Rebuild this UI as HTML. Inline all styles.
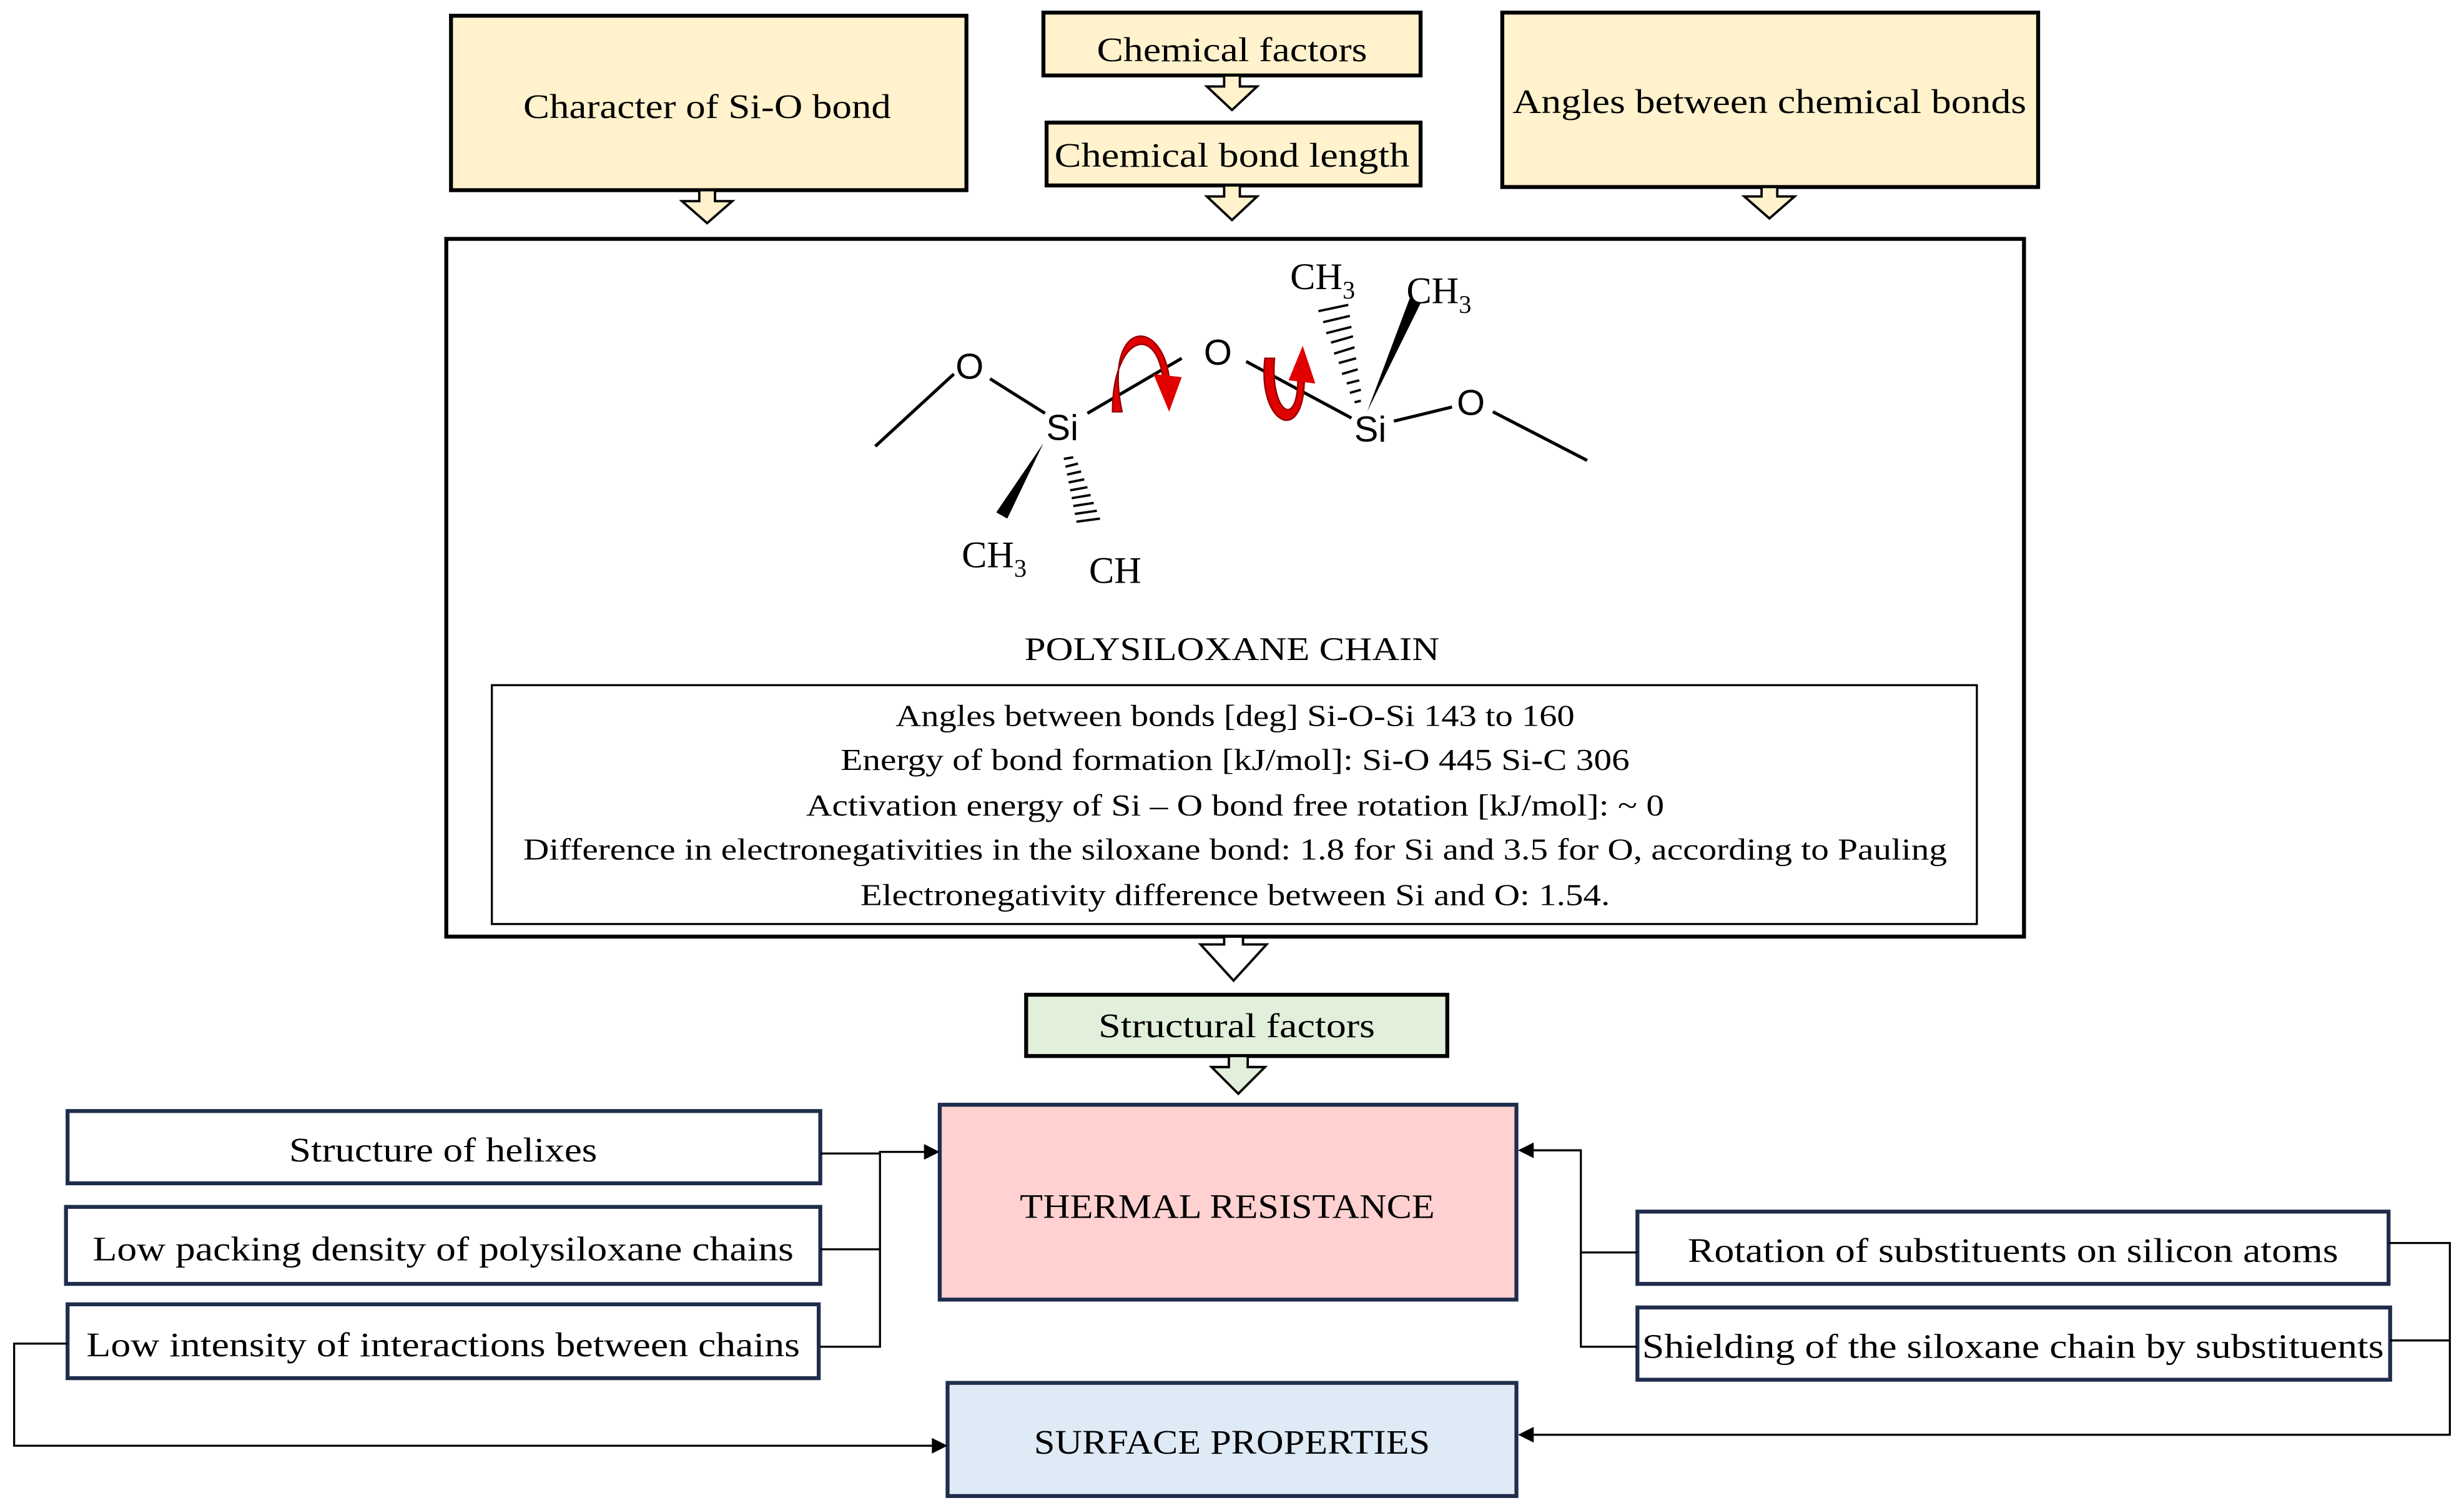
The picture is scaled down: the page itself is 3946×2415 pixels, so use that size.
<!DOCTYPE html>
<html><head><meta charset="utf-8"><style>html,body{margin:0;padding:0;background:#fff}svg{display:block}</style></head>
<body>
<svg width="3946" height="2415" viewBox="0 0 1568 959.6" xmlns="http://www.w3.org/2000/svg" font-family="'Liberation Serif', serif">
<rect x="0" y="0" width="1568" height="960" fill="#fff"/>
<g stroke="#000" stroke-width="2.5" fill="#fff2cc">
<rect x="287" y="10" width="328" height="111"/>
<rect x="664" y="8" width="240" height="40"/>
<rect x="666" y="78" width="238" height="40"/>
<rect x="956" y="8" width="341" height="111"/>
</g>
<g stroke="#000" stroke-width="1.5" fill="#fff2cc">
<path d="M445 121 V128 H434 L450 142 L466 128 H455 V121 Z"/>
<path d="M779 48 V55 H768 L784 70 L800 55 H789 V48 Z"/>
<path d="M779 118 V125 H768 L784 140 L800 125 H789 V118 Z"/>
<path d="M1121 119 V125 H1110 L1126 139 L1142 125 H1131 V119 Z"/>
</g>
<g font-size="22" text-anchor="middle" fill="#000">
<text x="450" y="75" textLength="234" lengthAdjust="spacingAndGlyphs">Character of Si-O bond</text>
<text x="784" y="39" textLength="172" lengthAdjust="spacingAndGlyphs">Chemical factors</text>
<text x="784" y="106" textLength="226" lengthAdjust="spacingAndGlyphs">Chemical bond length</text>
<text x="1126" y="72" textLength="327" lengthAdjust="spacingAndGlyphs">Angles between chemical bonds</text>
</g>
<rect x="284" y="152" width="1004" height="444" fill="#fff" stroke="#000" stroke-width="2.5"/>
<g stroke="#000" stroke-width="2" fill="none">
<line x1="557" y1="284" x2="607" y2="238"/>
<line x1="630" y1="241" x2="665" y2="263"/>
<line x1="692" y1="263" x2="752" y2="228"/>
<line x1="793" y1="230" x2="860" y2="266"/>
<line x1="887" y1="268" x2="924" y2="259"/>
<line x1="950" y1="262" x2="1010" y2="293"/>
</g>
<path d="M664 282 L634 326 L641 330 Z" fill="#000"/>
<path d="M870 262 L897 190 L904 193 Z" fill="#000"/>
<g stroke="#000" stroke-width="1.5">
<line x1="677" y1="292" x2="683" y2="291"/><line x1="678" y1="297" x2="686" y2="295"/><line x1="679" y1="302" x2="688" y2="300"/><line x1="680" y1="307" x2="690" y2="305"/><line x1="681" y1="312" x2="692" y2="310"/><line x1="682" y1="317" x2="694" y2="315"/><line x1="683" y1="322" x2="696" y2="320"/><line x1="684" y1="327" x2="698" y2="325"/><line x1="685" y1="332" x2="700" y2="330"/>
<line x1="862" y1="256" x2="866" y2="255"/><line x1="859" y1="250" x2="866" y2="248"/><line x1="857" y1="244" x2="865" y2="242"/><line x1="854" y1="238" x2="864" y2="235"/><line x1="852" y1="231" x2="863" y2="228"/><line x1="849" y1="225" x2="862" y2="221"/><line x1="847" y1="218" x2="861" y2="214"/><line x1="844" y1="212" x2="860" y2="208"/><line x1="842" y1="205" x2="859" y2="201"/><line x1="839" y1="198" x2="858" y2="194"/>
</g>
<g fill="#000" font-size="23" text-anchor="middle" font-family="'Liberation Sans', sans-serif">
<text x="617" y="241">O</text>
<text x="676" y="280">Si</text>
<text x="775" y="232">O</text>
<text x="872" y="281">Si</text>
<text x="936" y="264">O</text>
</g>
<g fill="#000" font-size="24">
<text x="612" y="361">CH<tspan font-size="16" dy="6">3</tspan></text>
<text x="693" y="371">CH</text>
<text x="821" y="184">CH<tspan font-size="16" dy="6">3</tspan></text>
<text x="895" y="193">CH<tspan font-size="16" dy="6">3</tspan></text>
</g>
<path d="M708 262 C708 215 735 205 740 240 L744 240 C738 200 702 205 714 262 Z" fill="#e00000" stroke="#900" stroke-width="1"/>
<path d="M734 238 L752 240 L744 262 Z" fill="#e00000"/>
<path d="M805 228 C800 270 830 285 830 240 L826 240 C826 275 808 262 811 228 Z" fill="#e00000" stroke="#900" stroke-width="1"/>
<path d="M820 242 L829 220 L837 244 Z" fill="#e00000"/>
<text x="784" y="420" font-size="21" text-anchor="middle" textLength="264" lengthAdjust="spacingAndGlyphs">POLYSILOXANE CHAIN</text>
<rect x="313" y="436" width="945" height="152" fill="#fff" stroke="#000" stroke-width="1.3"/>
<g font-size="19.5" text-anchor="middle">
<text x="786" y="462" textLength="432" lengthAdjust="spacingAndGlyphs">Angles between bonds [deg] Si-O-Si 143 to 160</text>
<text x="786" y="490" textLength="502" lengthAdjust="spacingAndGlyphs">Energy of bond formation  [kJ/mol]: Si-O 445  Si-C 306</text>
<text x="786" y="519" textLength="546" lengthAdjust="spacingAndGlyphs">Activation energy of Si – O bond free rotation [kJ/mol]:  ~ 0</text>
<text x="786" y="547" textLength="906" lengthAdjust="spacingAndGlyphs">Difference in electronegativities in the siloxane bond: 1.8 for Si and 3.5 for O, according to Pauling</text>
<text x="786" y="576" textLength="477" lengthAdjust="spacingAndGlyphs">Electronegativity difference between Si and O: 1.54.</text>
</g>
<path d="M779 596 V601 H764 L785 624 L806 601 H791 V596 Z" fill="#fff" stroke="#000" stroke-width="1.5"/>
<rect x="653" y="633" width="268" height="39" fill="#e2efda" stroke="#000" stroke-width="2.5"/>
<text x="787" y="660" font-size="22" text-anchor="middle" textLength="176" lengthAdjust="spacingAndGlyphs">Structural factors</text>
<path d="M782 672 V679 H771 L788 696 L805 679 H794 V672 Z" fill="#e2efda" stroke="#000" stroke-width="1.5"/>
<g stroke="#1f2d4d" stroke-width="2.5">
<rect x="598" y="703" width="367" height="124" fill="#ffd1d1"/>
<rect x="603" y="880" width="362" height="72" fill="#deeaf5"/>
<rect x="43" y="707" width="479" height="46" fill="#fff"/>
<rect x="42" y="768" width="480" height="49" fill="#fff"/>
<rect x="43" y="830" width="478" height="47" fill="#fff"/>
<rect x="1042" y="771" width="478" height="46" fill="#fff"/>
<rect x="1042" y="832" width="479" height="46" fill="#fff"/>
</g>
<g font-size="22" text-anchor="middle">
<text x="781" y="775" textLength="264" lengthAdjust="spacingAndGlyphs">THERMAL RESISTANCE</text>
<text x="784" y="925" textLength="252" lengthAdjust="spacingAndGlyphs">SURFACE PROPERTIES</text>
<text x="282" y="739" textLength="196" lengthAdjust="spacingAndGlyphs">Structure of helixes</text>
<text x="282" y="802" textLength="446" lengthAdjust="spacingAndGlyphs">Low packing density of polysiloxane chains</text>
<text x="282" y="863" textLength="454" lengthAdjust="spacingAndGlyphs">Low intensity of interactions between chains</text>
<text x="1281" y="803" textLength="414" lengthAdjust="spacingAndGlyphs">Rotation of substituents on silicon atoms</text>
<text x="1281" y="864" textLength="472" lengthAdjust="spacingAndGlyphs">Shielding of the siloxane chain by substituents</text>
</g>
<g stroke="#000" stroke-width="1.3" fill="none">
<polyline points="522,734 560,734"/>
<polyline points="522,795 560,795"/>
<polyline points="522,857 560,857 560,733 590,733"/>
<polyline points="43,855 9,855 9,920 595,920"/>
<polyline points="1042,797 1006,797"/>
<polyline points="1042,857 1006,857 1006,732 973,732"/>
<polyline points="1520,791 1559,791 1559,913 973,913"/>
<polyline points="1521,853 1559,853"/>
</g>
<g fill="#000">
<path d="M598 733 L588 728 L588 738 Z"/>
<path d="M603 920 L593 915 L593 925 Z"/>
<path d="M966 732 L976 727 L976 737 Z"/>
<path d="M966 913 L976 908 L976 918 Z"/>
</g>
</svg>
</body></html>
